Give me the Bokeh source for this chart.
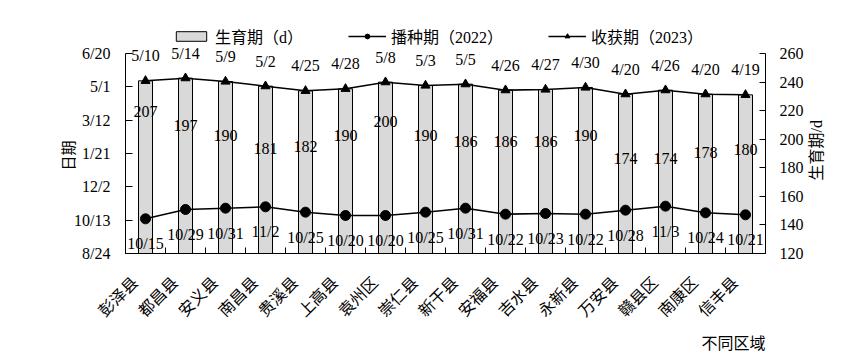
import math
from datetime import date
from bokeh.plotting import figure
from bokeh.models import (Range1d, LinearAxis, FixedTicker, Legend, LegendItem,
                          Title, ColumnDataSource)
from bokeh.core.properties import value
from bokeh.embed import file_html
from bokeh.resources import INLINE

# ---------------- data ----------------
regions = ["彭泽县", "都昌县", "安义县", "南昌县", "贵溪县", "上高县", "袁州区", "崇仁县",
           "新干县", "安福县", "吉水县", "永新县", "万安县", "赣县区", "南康区", "信丰县"]
sowing = ["10/15", "10/29", "10/31", "11/2", "10/25", "10/20", "10/20", "10/25",
          "10/31", "10/22", "10/23", "10/22", "10/28", "11/3", "10/24", "10/21"]
harvest = ["5/10", "5/14", "5/9", "5/2", "4/25", "4/28", "5/8", "5/3",
           "5/5", "4/26", "4/27", "4/30", "4/20", "4/26", "4/20", "4/19"]
growth_days = [207, 197, 190, 181, 182, 190, 200, 190, 186, 186, 186, 190, 174, 174, 178, 180]
date_tick_labels = ["8/24", "10/13", "12/2", "1/21", "3/12", "5/1", "6/20"]
days_ticks = [120, 140, 160, 180, 200, 220, 240, 260]

BASE = date(2022, 8, 24)


def to_day(s):
    m, d = (int(v) for v in s.split("/"))
    y = 2022 if m >= 8 else 2023
    return (date(y, m, d) - BASE).days


x = list(range(len(regions)))
sow_day = [to_day(s) for s in sowing]
harv_day = [to_day(s) for s in harvest]
date_ticks = [to_day(s) for s in date_tick_labels]

src = ColumnDataSource(dict(x=x, sow=sow_day, harv=harv_day, sow_lab=sowing,
                            harv_lab=harvest, growth=growth_days,
                            growth_lab=[str(g) for g in growth_days]))

NUM = "Liberation Serif"
CJK = "Noto Sans CJK SC"
MIX = "Liberation Serif, Noto Sans CJK SC"
PAD = "\u3000"   # ideographic space, nudges the rotated category labels

# layout (pixels)
W, H = 838, 361
LEFT, RIGHT, TOP, BOTTOM = 125, 73, 25, 108
AXIS_PX = 200                     # height of the drawn axes
FRAME_PX = H - TOP - BOTTOM       # frame extends above the axes for legend / labels
ext = FRAME_PX / AXIS_PX

d0, d1 = date_ticks[0], date_ticks[-1]
g0, g1 = days_ticks[0], days_ticks[-1]

p = figure(width=W, height=H, output_backend="svg", toolbar_location=None,
           x_range=Range1d(-0.5, len(regions) - 0.5),
           y_range=Range1d(d0, d0 + (d1 - d0) * ext),
           min_border_left=LEFT, min_border_right=RIGHT, min_border_top=TOP,
           min_border_bottom=BOTTOM)
p.extra_y_ranges = {"days": Range1d(g0, g0 + (g1 - g0) * ext)}
p.outline_line_color = None
p.grid.visible = False
p.background_fill_color = "white"

# bars
r_bar = p.vbar(x="x", top="harv", bottom=d0, width=0.35, source=src,
               fill_color="#d9d9d9", line_color="black", line_width=1)

# lines
l_sow = p.line("x", "sow", source=src, line_color="black", line_width=1.5)
s_sow = p.scatter("x", "sow", source=src, marker="circle", size=10,
                  fill_color="black", line_color="black")
l_har = p.line("x", "harv", source=src, line_color="black", line_width=1.5)
s_har = p.scatter("x", "harv", source=src, marker="triangle", size=9,
                  fill_color="black", line_color="black")

# data labels
p.text(x="x", y="harv", text="harv_lab", source=src, y_offset=-25,
       text_align="center", text_baseline="middle",
       text_font=value(NUM), text_font_size="16px", text_color="black")
p.text(x="x", y="sow", text="sow_lab", source=src, y_offset=25,
       text_align="center", text_baseline="middle",
       text_font=value(NUM), text_font_size="16px", text_color="black")
p.text(x="x", y="growth", text="growth_lab", source=src, y_range_name="days",
       y_offset=-18, text_align="center", text_baseline="middle",
       text_font=value(NUM), text_font_size="16px", text_color="black")

# x axis
xa = p.xaxis[0]
xa.ticker = FixedTicker(ticks=x, minor_ticks=[i - 0.5 for i in range(len(regions) + 1)])
xa.major_label_overrides = {i: r + PAD for i, r in zip(x, regions)}
xa.major_tick_in = 0
xa.major_tick_out = 0
xa.minor_tick_in = 6
xa.minor_tick_out = 0
xa.major_label_orientation = math.pi / 4
xa.major_label_standoff = 14
xa.major_label_text_font = CJK
xa.major_label_text_font_size = "16px"
xa.major_label_text_color = "black"
xa.axis_line_color = "black"

# left axis
ya = p.yaxis[0]
ya.bounds = (d0, d1)
ya.ticker = FixedTicker(ticks=date_ticks)
ya.major_label_overrides = {t: l for t, l in zip(date_ticks, date_tick_labels)}
ya.major_tick_in = 7
ya.major_tick_out = 0
ya.minor_tick_in = 0
ya.minor_tick_out = 0
ya.major_label_standoff = 15
ya.major_label_text_font = NUM
ya.major_label_text_font_size = "16px"
ya.major_label_text_color = "black"
ya.axis_line_color = "black"

# right axis
ra = LinearAxis(y_range_name="days", ticker=FixedTicker(ticks=days_ticks),
                bounds=(g0, g1))
ra.major_tick_in = 6
ra.major_tick_out = 0
ra.minor_tick_in = 0
ra.minor_tick_out = 0
ra.major_label_standoff = 14
ra.major_label_text_font = NUM
ra.major_label_text_font_size = "16px"
ra.major_label_text_color = "black"
ra.axis_line_color = "black"
p.add_layout(ra, "right")


# axis titles drawn as rotated single-tick labels of bare axes (read bottom-to-top)
def title_axis(text, tick, font, size, standoff, range_name="default"):
    ax = LinearAxis(y_range_name=range_name, ticker=FixedTicker(ticks=[tick]),
                    major_label_overrides={tick: text})
    ax.axis_line_color = None
    ax.major_tick_in = ax.major_tick_out = 0
    ax.minor_tick_in = ax.minor_tick_out = 0
    ax.major_label_orientation = math.pi / 2
    ax.major_label_standoff = standoff
    ax.major_label_text_font = font
    ax.major_label_text_font_size = size
    ax.major_label_text_color = "black"
    return ax


left_title_at = d0 + (d1 - d0) * 113 / AXIS_PX      # top end of "日期"
right_title_at = g0 + (g1 - g0) * 73 / AXIS_PX      # bottom end of "生育期/d"
p.add_layout(title_axis("日期", left_title_at, CJK, "15px", 4), "left")
p.add_layout(title_axis("生育期/d", right_title_at, MIX, "16px", 10, "days"), "right")

# x title at the bottom right
p.add_layout(Title(text="不同区域", align="right", standoff=-9,
                   text_font=CJK, text_font_size="16px", text_font_style="normal",
                   text_color="black"), "below")

legend = Legend(items=[LegendItem(label="生育期（d）", renderers=[r_bar]),
                       LegendItem(label="播种期（2022）", renderers=[l_sow, s_sow]),
                       LegendItem(label="收获期（2023）", renderers=[l_har, s_har])],
                orientation="horizontal", location=(47, 205), padding=0, margin=0,
                border_line_color=None, background_fill_alpha=0,
                glyph_width=38, glyph_height=12, label_standoff=5, spacing=45,
                label_text_font=MIX, label_text_font_size="16px",
                label_text_color="black")
p.add_layout(legend)

open("out.html", "w").write(file_html(p, INLINE))
